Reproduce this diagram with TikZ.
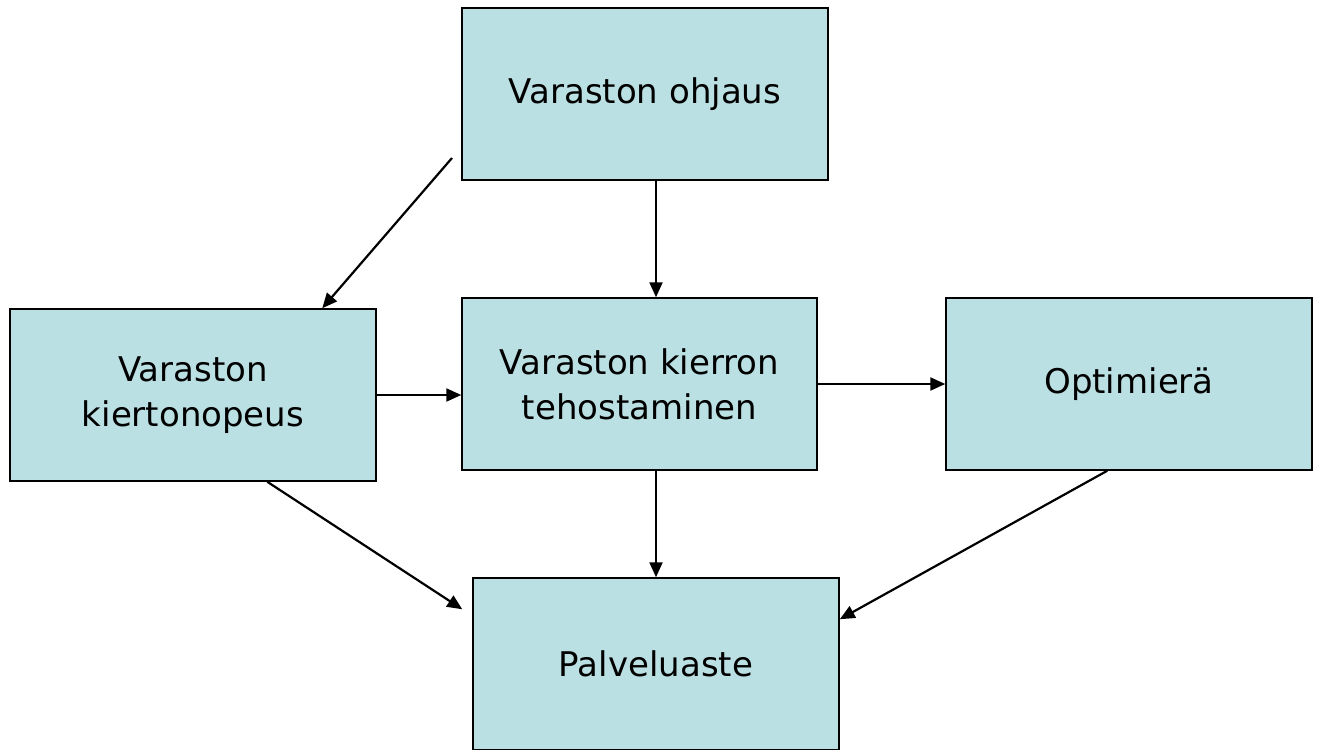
\documentclass[tikz,border=0pt]{standalone}
\usepackage{fontspec}
\setmainfont{DejaVu Sans}
\usetikzlibrary{arrows.meta}
\definecolor{boxfill}{HTML}{BBE0E3}
\tikzset{
  box/.style={draw=black, line width=1.5pt, fill=boxfill, minimum width=366pt, minimum height=172pt, inner sep=0pt, align=center, font=\fontsize{34}{45}\selectfont},
  arr/.style={line width=2.2pt, -{Triangle[length=15pt,width=13pt]}}
}
\begin{document}
\begin{tikzpicture}[x=1pt,y=-1pt]
\useasboundingbox (0,0) rectangle (1321,749);
\fill[white] (0,0) rectangle (1321,749);
\node[box] (ohj) at (645,94) {Varaston ohjaus};
\node[box] (kier) at (193,395) {Varaston\\kiertonopeus};
\node[box, minimum width=355pt] (teh) at (639.5,384) {Varaston kierron\\tehostaminen};
\node[box] (opt) at (1129,384) {Optimierä};
\node[box] (palv) at (656,664) {Palveluaste};
\coordinate (a1) at (452,158);
\draw[arr] (a1) -- ([xshift=313pt]kier.north west);
\draw[arr] (ohj.south -| palv.north) -- (teh.north -| palv.north);
\draw[arr] (kier.east) -- (kier.east -| teh.west);
\draw[arr] (teh.east) -- (opt.west);
\draw[arr] (teh.south -| palv.north) -- (palv.north);
\draw[arr] ([xshift=258pt]kier.south west) -- ([xshift=-10pt,yshift=-32pt]palv.north west);
\draw[arr] ([xshift=162pt]opt.south west) -- ([yshift=-42pt]palv.north east);
\end{tikzpicture}
\end{document}
